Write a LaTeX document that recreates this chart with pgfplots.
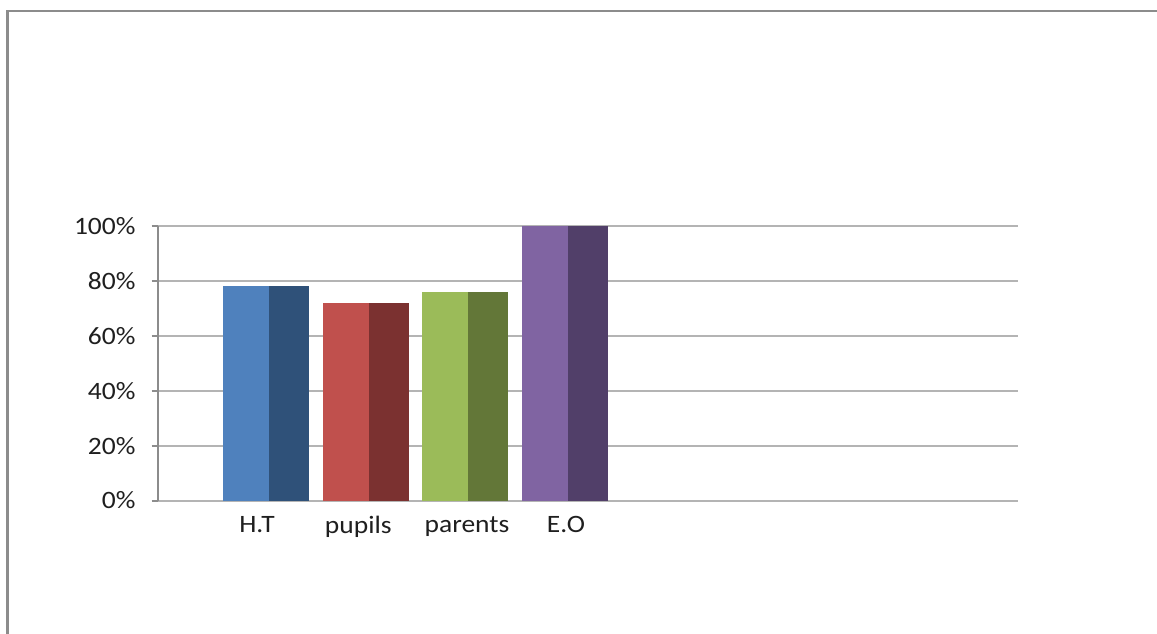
\documentclass[border=0pt]{standalone}
\usepackage{fontspec}
\setmainfont{Carlito}
\usepackage{pgfplots}
\pgfplotsset{compat=1.18}

\definecolor{framegray}{HTML}{8C8C8C}
\definecolor{axisgray}{HTML}{8C8C8C}
\definecolor{gridgray}{HTML}{B4B4B4}
\definecolor{blueL}{HTML}{4F81BD}
\definecolor{blueD}{HTML}{2F5179}
\definecolor{redL}{HTML}{C0504D}
\definecolor{redD}{HTML}{7B3130}
\definecolor{greenL}{HTML}{9BBB59}
\definecolor{greenD}{HTML}{637738}
\definecolor{purpleL}{HTML}{8064A2}
\definecolor{purpleD}{HTML}{513F69}

\begin{document}
\begin{tikzpicture}[x=1pt,y=1pt]
\path[use as bounding box] (0,0) rectangle (1157,633);
% outer chart frame
\draw[framegray, line width=2.4pt] (7.3,-2) -- (7.3,621.7) -- (1160,621.7);

\begin{axis}[
  at={(157.5pt,132.5pt)}, anchor=south west,
  scale only axis, width=860pt, height=274.5pt,
  xmin=0, xmax=860, ymin=0, ymax=100,
  axis x line*=bottom, axis y line*=left,
  x axis line style={draw=gridgray, line width=2pt, -},
  y axis line style={draw=axisgray, line width=2pt, -},
  ymajorgrids,
  major grid style={draw=gridgray, line width=2pt},
  ytick={0,20,40,60,80,100},
  yticklabels={0\%,20\%,40\%,60\%,80\%,100\%},
  xtick={99.5,200.8,309.5,408.5},
  xticklabels={H.T,\raisebox{-5pt}{pupils},parents,E.O},
  tick align=outside,
  major tick length=6pt,
  ytick style={draw=axisgray, line width=2pt},
  xtick style={draw=none},
  tick label style={font=\fontsize{25}{29}\selectfont, text=black!88, xscale=1.1},
  yticklabel style={xshift=-11pt},
  xticklabel style={yshift=-6.5pt},
  ybar, bar width=86,
  every axis plot/.append style={draw=none},
  clip=false,
]
% full bars (darker shade, right half shows)
\addplot[fill=blueD, bar shift=0] coordinates {(108.8,78)};
\addplot[fill=redD, bar shift=0] coordinates {(208.2,72)};
\addplot[fill=greenD, bar shift=0] coordinates {(307.6,76)};
\addplot[fill=purpleD, bar shift=0] coordinates {(407.0,100)};
% lighter left faces
\addplot[fill=blueL, bar width=46, bar shift=-20] coordinates {(108.8,78)};
\addplot[fill=redL, bar width=46, bar shift=-20] coordinates {(208.2,72)};
\addplot[fill=greenL, bar width=46, bar shift=-20] coordinates {(307.6,76)};
\addplot[fill=purpleL, bar width=46, bar shift=-20] coordinates {(407.0,100)};
\end{axis}
\end{tikzpicture}
\end{document}
